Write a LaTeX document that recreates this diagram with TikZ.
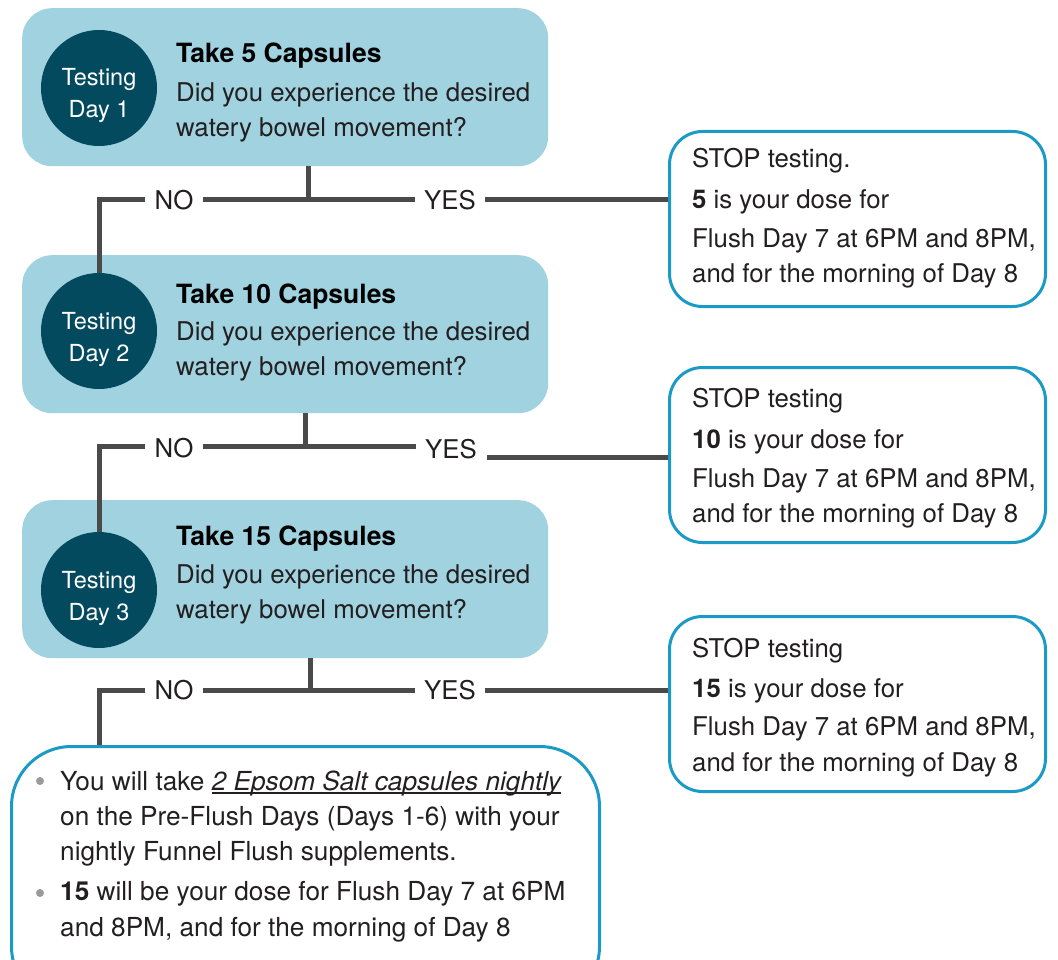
\documentclass[tikz,border=0pt]{standalone}
\usepackage{fontspec}
\setmainfont{TeX Gyre Heros}
\newcommand\ulx[1]{\setbox0\hbox{#1}\rlap{\rule[-3.5pt]{\wd0}{1.2pt}}\box0}
\definecolor{tealbox}{HTML}{A0D2E0}
\definecolor{darkcirc}{HTML}{034A5E}
\definecolor{bordblue}{HTML}{1A9AC5}
\definecolor{conngray}{HTML}{4A4A4A}
\definecolor{txt}{HTML}{231F20}
\definecolor{bulgray}{HTML}{9A9A9A}
\begin{document}
\begin{tikzpicture}[x=1pt,y=-1pt,
  daybox/.style={fill=tealbox, draw=none, rounded corners=30pt, minimum width=526pt, minimum height=158pt, anchor=north west, inner sep=0pt},
  daycirc/.style={circle, fill=darkcirc, minimum size=116pt, inner sep=0pt},
  circtxt/.style={text=white, align=center, font=\fontsize{23.5}{32}\selectfont, inner sep=0pt},
  stopbox/.style={draw=bordblue, line width=3pt, rounded corners=33pt, minimum width=376pt, minimum height=175pt, anchor=north west, inner sep=0pt},
  txtline/.style={anchor=base west, inner sep=0pt, text=txt, font=\fontsize{25.8}{30}\selectfont},
  headline/.style={txtline, text=black, font=\fontsize{26.5}{30}\selectfont\bfseries},
  botline/.style={txtline, font=\fontsize{26.2}{30}\selectfont},
  lbl/.style={inner xsep=9pt, inner ysep=0pt, text=txt, font=\fontsize{25.8}{30}\selectfont},
  conn/.style={draw=conngray, line width=5pt},
  bul/.style={circle, fill=bulgray, minimum size=8pt, inner sep=0pt}
]
\useasboundingbox (0,0) rectangle (1058,960);
\clip (0,0) rectangle (1058,960);

% ---------- day boxes ----------
\node[daybox] (b1) at (22,8) {};
\node[daybox] (b2) at (22,255) {};
\node[daybox] (b3) at (22,500) {};

\node[daycirc] (c1) at (99,88) {};
\node[daycirc] (c2) at (99,331) {};
\node[daycirc] (c3) at (99,590) {};

\node[circtxt, anchor=base] (ct1a) at (99,86) {Testing};
\node[circtxt, anchor=base] (ct1b) at (99,118) {Day 1};
\node[circtxt, anchor=base] (ct2a) at (99,329) {Testing};
\node[circtxt, anchor=base] (ct2b) at (99,361) {Day 2};
\node[circtxt, anchor=base] (ct3a) at (99,588) {Testing};
\node[circtxt, anchor=base] (ct3b) at (99,620) {Day 3};

\node[headline] (h1) at (176,63) {Take 5 Capsules};
\node[txtline] (q1a) at (176,102) {Did you experience the desired};
\node[txtline] (q1b) at (176,137) {watery bowel movement?};
\node[headline] (h2) at (176,303) {Take 10 Capsules};
\node[txtline] (q2a) at (176,340) {Did you experience the desired};
\node[txtline] (q2b) at (176,375) {watery bowel movement?};
\node[headline] (h3) at (176,545) {Take 15 Capsules};
\node[txtline] (q3a) at (176,583) {Did you experience the desired};
\node[txtline] (q3b) at (176,618) {watery bowel movement?};

% ---------- stop boxes ----------
\node[stopbox] (s1) at (668,130) {};
\node[stopbox] (s2) at (668,366) {};
\node[stopbox] (s3) at (668,615) {};

\node[txtline] (s1a) at (692,168) {STOP testing.};
\node[txtline] (s1b) at (692,209) {\textbf{5} is your dose for};
\node[txtline] (s1c) at (692,248) {Flush Day 7 at 6PM and 8PM,};
\node[txtline] (s1d) at (692,283) {and for the morning of Day 8};

\node[txtline] (s2a) at (692,407) {STOP testing};
\node[txtline] (s2b) at (692,448) {\textbf{10} is your dose for};
\node[txtline] (s2c) at (692,487) {Flush Day 7 at 6PM and 8PM,};
\node[txtline] (s2d) at (692,522) {and for the morning of Day 8};

\node[txtline] (s3a) at (692,657) {STOP testing};
\node[txtline] (s3b) at (692,697) {\textbf{15} is your dose for};
\node[txtline] (s3c) at (692,735) {Flush Day 7 at 6PM and 8PM,};
\node[txtline] (s3d) at (692,771) {and for the morning of Day 8};

% ---------- bottom box ----------
\node[draw=bordblue, line width=3pt, rounded corners=60pt, minimum width=588pt, minimum height=260pt, anchor=north west, inner sep=0pt] (bb) at (10,745) {};
\node[bul] (bu1) at (40,781) {};
\node[bul] (bu2) at (40,893) {};
\node[botline] (bt1) at (60,790) {You will take \ulx{\itshape 2 Epsom Salt capsules nightly}};
\node[botline] (bt2) at (60,825) {on the Pre-Flush Days (Days 1-6) with your};
\node[botline] (bt3) at (60,860) {nightly Funnel Flush supplements.};
\node[botline] (bt4) at (60,900) {\textbf{15} will be your dose for Flush Day 7 at 6PM};
\node[botline] (bt5) at (60,936) {and 8PM, and for the morning of Day 8};

% ---------- connectors ----------
\coordinate (j1) at (308,200);
\node[lbl] (no1) at (174,200) {NO};
\node[lbl] (yes1) at (450,200) {YES};
\draw[conn] (b1.south -| j1) -- (j1);
\draw[conn] (j1) -- (no1.east);
\draw[conn] (no1.west) -| (c2.north);
\draw[conn] (j1) -- (yes1.west);
\draw[conn] (yes1.east) -- (yes1.east -| s1.west);

\coordinate (j2) at (305,446);
\node[lbl] (no2) at (174,448) {NO};
\node[lbl] (yes2) at (451,449) {YES};
\coordinate (y2r) at (487,457);
\draw[conn] (b2.south -| j2) -- (j2);
\draw[conn] (j2) -- (no2.east |- j2);
\draw[conn] (no2.west |- j2) -| (c3.north);
\draw[conn] (j2) -- (yes2.west |- j2);
\draw[conn] (y2r) -- (y2r -| s2.west);

\coordinate (j3) at (310,690);
\node[lbl] (no3) at (174,690) {NO};
\node[lbl] (yes3) at (450,690) {YES};
\draw[conn] (b3.south -| j3) -- (j3);
\draw[conn] (j3) -- (no3.east);
\draw[conn] (no3.west) -| (c3 |- bb.north);
\draw[conn] (j3) -- (yes3.west);
\draw[conn] (yes3.east) -- (yes3.east -| s3.west);
\end{tikzpicture}
\end{document}
